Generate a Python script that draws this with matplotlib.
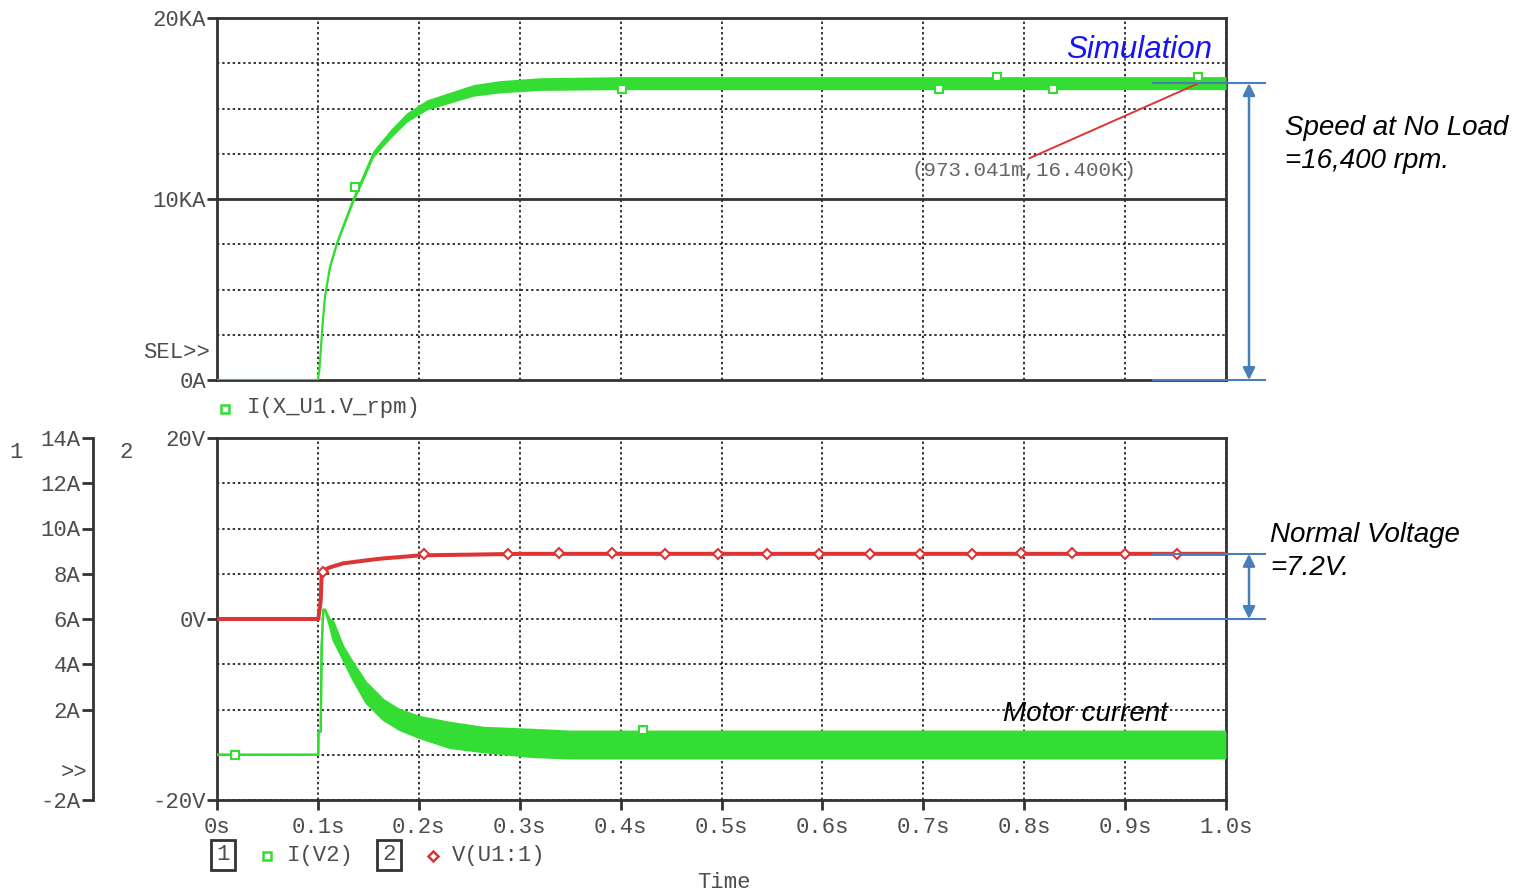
import matplotlib.pyplot as plt
from matplotlib.lines import Line2D

# motor speed, top plot (the simulator prints it in KA)
speed_t = [0.0, 0.1, 0.1014, 0.1031, 0.1047, 0.107, 0.112, 0.119, 0.125, 0.135,
           0.145, 0.155, 0.172, 0.188, 0.208, 0.231, 0.254, 0.28, 0.32, 0.4,
           0.5, 0.6, 0.7, 0.8, 0.9, 1.0]
speed_k = [0.0, 0.0, 0.55, 1.82, 3.1, 4.6, 6.25, 7.57, 8.47, 9.94,
           11.2, 12.5, 13.6, 14.5, 15.2, 15.6, 16.0, 16.2, 16.35, 16.4,
           16.4, 16.4, 16.4, 16.4, 16.4, 16.4]
speed_ripple = [0.0, 0.0, 0.0, 0.0, 0.04, 0.05, 0.08, 0.1, 0.12, 0.15,
                0.18, 0.2, 0.24, 0.26, 0.28, 0.3, 0.32, 0.34, 0.35, 0.36,
                0.36, 0.36, 0.36, 0.36, 0.36, 0.36]
speed_mark_t = [0.137, 0.401, 0.716, 0.773, 0.829, 0.972]
speed_mark_k = [10.66, 16.05, 16.05, 16.75, 16.05, 16.75]

# motor current I(V2), axis 1 (A) -- upper / lower edge of the ripple band
cur_t = [0.0, 0.1004, 0.1006, 0.1028, 0.1037, 0.1054, 0.1071, 0.112, 0.1153,
         0.1252, 0.135, 0.148, 0.165, 0.181, 0.201, 0.231, 0.264, 0.313,
         0.35, 0.4, 0.5, 0.6, 0.7, 0.8, 0.9, 1.0]
cur_hi = [0.0, 0.0, 1.02, 1.02, 4.78, 6.41, 6.41, 5.96, 5.88,
          4.77, 4.06, 3.18, 2.42, 1.98, 1.67, 1.41, 1.19, 1.10,
          1.02, 1.02, 1.02, 1.02, 1.02, 1.02, 1.02, 1.02]
cur_lo = [0.0, 0.0, 1.02, 1.02, 4.78, 6.41, 6.41, 5.67, 5.08,
          4.19, 3.31, 2.29, 1.54, 1.10, 0.74, 0.30, 0.12, -0.10,
          -0.16, -0.16, -0.16, -0.16, -0.16, -0.16, -0.16, -0.16]
cur_mark_t = [0.018, 0.422]
cur_mark_a = [0.0, 1.1]

# motor voltage V(U1:1), axis 2 (V)
volt_t = [0.0, 0.1004, 0.1028, 0.1037, 0.1054, 0.112, 0.125, 0.135, 0.148,
          0.165, 0.181, 0.201, 0.25, 0.3, 1.0]
volt_v = [0.0, 0.0, 2.06, 5.04, 5.38, 5.71, 6.15, 6.29, 6.48,
          6.70, 6.84, 7.03, 7.11, 7.2, 7.2]
volt_mark_t = [0.105, 0.205, 0.288, 0.339, 0.391, 0.444, 0.497, 0.545, 0.597,
               0.647, 0.697, 0.748, 0.797, 0.847, 0.9, 0.951]
volt_mark_v = [5.2, 7.15, 7.2, 7.25, 7.25, 7.2, 7.2, 7.15, 7.2,
               7.2, 7.2, 7.2, 7.25, 7.25, 7.2, 7.15]

cursor_t = 0.973041
cursor_k = 16.4
nominal_v = 7.2

time_ticks = [0.0, 0.1, 0.2, 0.3, 0.4, 0.5, 0.6, 0.7, 0.8, 0.9, 1.0]
time_labels = ["0s", "0.1s", "0.2s", "0.3s", "0.4s", "0.5s", "0.6s",
               "0.7s", "0.8s", "0.9s", "1.0s"]
amp_ticks = [-2, 2, 4, 6, 8, 10, 12, 14]
amp_labels = ["-2A", "2A", "4A", "6A", "8A", "10A", "12A", "14A"]

GREEN = "#33dd33"
RED = "#dd3535"
BLUE = "#4a7ebb"
AXC = "#333333"
TXT = "#4d4d4d"
MONO = "Liberation Mono"
SANS = "Liberation Sans"

W, H = 1528, 892


def fx(x):
    return x / W


def fy(y):
    return 1 - y / H


fig = plt.figure(figsize=(W / 100, H / 100), dpi=100)
ax_top = fig.add_axes([fx(217), fy(380), 1009 / W, 362 / H])
ax_bot = fig.add_axes([fx(217), fy(800), 1009 / W, 362 / H])
ax_amp = ax_bot.twinx()

dots = dict(color="#222222", linestyle=(0, (1.3, 1.6)), linewidth=1.3)

for ax in (ax_top, ax_bot):
    ax.set_xlim(0, 1.0)
    ax.set_xticks(time_ticks)
    for s in ax.spines.values():
        s.set_linewidth(2)
        s.set_color(AXC)
    ax.tick_params(axis="y", which="major", length=7, width=2, color=AXC,
                   pad=1, labelsize=16, labelcolor=TXT)
    ax.tick_params(axis="y", which="minor", length=0)
    ax.grid(axis="x", which="major", **dots)

# top plot: speed
ax_top.set_ylim(0, 20)
ax_top.set_yticks([0, 10, 20])
ax_top.set_yticklabels(["0A", "10KA", "20KA"], family=MONO)
ax_top.set_yticks([2.5, 5, 7.5, 12.5, 15, 17.5], minor=True)
ax_top.grid(axis="y", which="minor", **dots)
ax_top.axhline(10, color=AXC, lw=2)
ax_top.tick_params(axis="x", length=0, labelbottom=False)

lo = [c - r for c, r in zip(speed_k, speed_ripple)]
hi = [c + r for c, r in zip(speed_k, speed_ripple)]
ax_top.fill_between(speed_t, lo, hi, color=GREEN, lw=0, zorder=3)
ax_top.plot(speed_t, speed_k, color=GREEN, lw=1.6, zorder=3)
ax_top.plot(speed_mark_t, speed_mark_k, ls="none", marker="s", ms=6,
            mfc="white", mec=GREEN, mew=1.5, zorder=4)

# cursor readout with its leader line
ax_top.annotate("(973.041m,16.400K)", xy=(cursor_t, cursor_k), xytext=(0.8, 11.6),
                ha="center", va="center", family=MONO, fontsize=15, color="#666666",
                arrowprops=dict(arrowstyle="-", color=RED, lw=1.4, relpos=(0.5, 1.0),
                                patchA=None, shrinkA=4, shrinkB=0), zorder=5)

# bottom plot: voltage on axis 2
ax_bot.set_ylim(-20, 20)
ax_bot.set_yticks([-20, 0, 20])
ax_bot.set_yticklabels(["-20V", "0V", "20V"], family=MONO)
ax_bot.set_yticks([-15, -10, -5, 5, 10, 15], minor=True)
ax_bot.grid(axis="y", which="both", **dots)
ax_bot.set_xticklabels(time_labels, family=MONO)
ax_bot.tick_params(axis="x", length=7, width=2, color=AXC, pad=5,
                   labelsize=16, labelcolor=TXT)
ax_bot.plot(volt_t, volt_v, color=RED, lw=2.9, zorder=3)
ax_bot.plot(volt_mark_t, volt_mark_v, ls="none", marker="D", ms=5,
            mfc="white", mec=RED, mew=1.5, zorder=4)

# bottom plot: current on axis 1, offset to the left
ax_amp.set_ylim(-2, 14)
ax_amp.yaxis.tick_left()
ax_amp.spines["left"].set_position(("axes", (93 - 217) / 1009))
ax_amp.spines["left"].set_visible(True)
ax_amp.spines["left"].set_linewidth(2)
ax_amp.spines["left"].set_color(AXC)
for side in ("right", "top", "bottom"):
    ax_amp.spines[side].set_visible(False)
ax_amp.set_yticks(amp_ticks)
ax_amp.set_yticklabels(amp_labels, family=MONO)
ax_amp.tick_params(axis="y", length=8, width=2, color=AXC, pad=1,
                   labelsize=16, labelcolor=TXT)
ax_amp.fill_between(cur_t, cur_lo, cur_hi, color=GREEN, lw=0, zorder=3)
ax_amp.plot(cur_t, cur_hi, color=GREEN, lw=1.6, zorder=3)
ax_amp.plot(cur_t, cur_lo, color=GREEN, lw=1.6, zorder=3)
ax_amp.plot(cur_mark_t, cur_mark_a, ls="none", marker="s", ms=6,
            mfc="white", mec=GREEN, mew=1.5, zorder=4)

# dimension arrows on the right
arrow_x = 1.0228
for ax, top_val in ((ax_top, cursor_k), (ax_bot, nominal_v)):
    for val in (top_val, 0):
        ax.plot([0.928, 1.039], [val, val], color=BLUE, lw=1.5, clip_on=False, zorder=6)
    ax.annotate("", xy=(arrow_x, 0), xytext=(arrow_x, top_val),
                arrowprops=dict(arrowstyle="<|-|>", color=BLUE, lw=1.8,
                                mutation_scale=18, shrinkA=0, shrinkB=0),
                annotation_clip=False, zorder=6)

# notes
note = dict(ha="left", va="center", family=SANS, style="italic",
            fontsize=20, color="black")
fig.text(fx(1212), fy(50), "Simulation", ha="right", va="center", family=SANS,
         style="italic", fontsize=22.5, color="#1515ee")
fig.text(fx(1285), fy(128), "Speed at No Load", **note)
fig.text(fx(1285), fy(161), "=16,400 rpm.", **note)
fig.text(fx(1270), fy(535), "Normal Voltage", **note)
fig.text(fx(1270), fy(568), "=7.2V.", **note)
fig.text(fx(1003), fy(714), "Motor current", **note)

# probe-window labels
mono = dict(family=MONO, fontsize=16, color=TXT)
fig.text(fx(210), fy(352), "SEL>>", ha="right", va="center", **mono)
fig.text(fx(88), fy(772), ">>", ha="right", va="center", **mono)
fig.text(fx(16), fy(452), "1", ha="center", va="center", **mono)
fig.text(fx(126), fy(452), "2", ha="center", va="center", **mono)
fig.text(fx(247), fy(408), "I(X_U1.V_rpm)", ha="left", va="center", **mono)
fig.text(fx(287), fy(855), "I(V2)", ha="left", va="center", **mono)
fig.text(fx(452), fy(855), "V(U1:1)", ha="left", va="center", **mono)
fig.text(fx(724), fy(882), "Time", ha="center", va="center", **mono)
box = dict(boxstyle="square,pad=0.22", fc="white", ec=AXC, lw=2)
fig.text(fx(223), fy(855), "1", ha="center", va="center", bbox=box, **mono)
fig.text(fx(389), fy(855), "2", ha="center", va="center", bbox=box, **mono)

fig.add_artist(Line2D([fx(225)], [fy(409)], marker="s", ms=6, mfc="white",
                      mec=GREEN, mew=1.8, transform=fig.transFigure))
fig.add_artist(Line2D([fx(267)], [fy(856)], marker="s", ms=6, mfc="white",
                      mec=GREEN, mew=1.8, transform=fig.transFigure))
fig.add_artist(Line2D([fx(433)], [fy(856)], marker="D", ms=5, mfc="white",
                      mec=RED, mew=1.8, transform=fig.transFigure))

fig.savefig("out.png", dpi=100, facecolor="white")
